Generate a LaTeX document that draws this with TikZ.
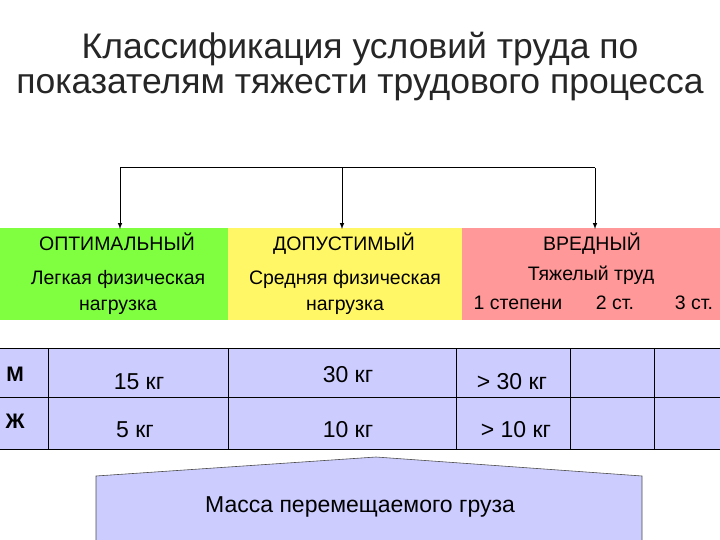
\documentclass[tikz,border=0pt]{standalone}
\usepackage{fontspec}
\setmainfont{Liberation Sans}
\begin{document}
\begin{tikzpicture}[x=1pt,y=-1pt,
  cell/.style={font=\fontsize{23}{26}\selectfont, anchor=base},
  hdr/.style={font=\fontsize{19.5}{23}\selectfont, align=center, anchor=base},
  arr/.style={-latex, line width=1pt}]
\useasboundingbox (0,0) rectangle (720,540);
\node[font=\fontsize{35.5}{35}\selectfont, align=center, text=black!85] (title) at (360,67) {Классификация условий труда по\\показателям тяжести трудового процесса};
% bands
\fill[green!55!lime!75] (0,228) rectangle (228,320);
\fill[yellow!60] (228,228) rectangle (462,320);
\fill[red!40] (462,228) rectangle (720,320);
\node[hdr] (opt) at (117,250) {ОПТИМАЛЬНЫЙ};
\node[hdr] (dop) at (344,250) {ДОПУСТИМЫЙ};
\node[hdr] (vr) at (592,250) {ВРЕДНЫЙ};
\node[hdr] (l1a) at (118,284) {Легкая физическая};
\node[hdr] (l1b) at (118,310) {нагрузка};
\node[hdr] (l2a) at (345,284) {Средняя физическая};
\node[hdr] (l2b) at (345,310) {нагрузка};
\node[hdr] (l3) at (591,280) {Тяжелый труд};
\node[hdr] (s1) at (518,309) {1 степени};
\node[hdr] (s2) at (615,309) {2 ст.};
\node[hdr] (s3) at (694,309) {3 ст.};
% arrows
\coordinate (t1) at (120,168); \coordinate (t2) at (342,168); \coordinate (t3) at (595,168);
\draw[line width=1pt] (t1) -- (t3);
\draw[arr] (t1) -- (120,229);
\draw[arr] (t2) -- (342,229);
\draw[arr] (t3) -- (595,229);
% table
\fill[blue!20] (0,348) rectangle (720,449);
\draw[line width=1pt] (0,348) -- (720,348) (0,397) -- (720,397) (0,449) -- (720,449);
\foreach \x in {48,228,456,570,654} \draw[line width=0.8pt] (\x,348) -- (\x,449);
\node[cell,font=\bfseries\fontsize{21}{24}\selectfont] (m) at (15,381) {М};
\node[cell,font=\bfseries\fontsize{21}{24}\selectfont] (zh) at (15,428) {Ж};
\node[cell] (a1) at (139,389) {15 кг};
\node[cell] (a2) at (348,382) {30 кг};
\node[cell] (a3) at (512,389) {> 30 кг};
\node[cell] (b1) at (135,437) {5 кг};
\node[cell] (b2) at (348,437) {10 кг};
\node[cell] (b3) at (516,437) {> 10 кг};
% bottom shape
\filldraw[fill=blue!20, draw=black!70, line width=0.6pt] (96,542) -- (96,476) -- (376,457) -- (642,476) -- (642,542);
\node[cell] (mass) at (360,512) {Масса перемещаемого груза};
\end{tikzpicture}
\end{document}
